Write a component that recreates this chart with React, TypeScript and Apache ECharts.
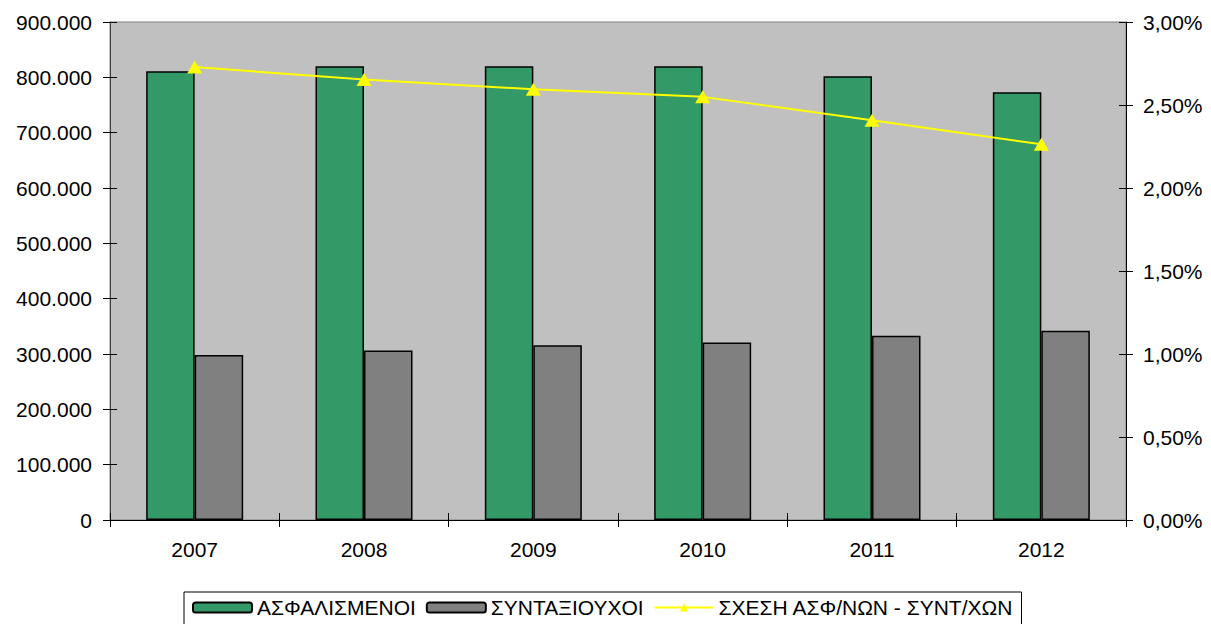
import React, { useEffect, useRef } from "react";
import * as echarts from "echarts";

const years = ["2007", "2008", "2009", "2010", "2011", "2012"];
const insured = [811000, 820000, 820000, 820000, 802000, 773000];
const pensioners = [298000, 306500, 316000, 321000, 333000, 342000];
const ratioPct = [2.729, 2.653, 2.595, 2.549, 2.408, 2.263];

const seriesNames = ["ΑΣΦΑΛΙΣΜΕΝΟΙ", "ΣΥΝΤΑΞΙΟΥΧΟΙ", "ΣΧΕΣΗ ΑΣΦ/ΝΩΝ - ΣΥΝΤ/ΧΩΝ"];

const FONT = "'Liberation Sans', Arial, sans-serif";

const fmtThousands = (v: number) =>
  v === 0 ? "0" : String(Math.round(v)).replace(/\B(?=(\d{3})+(?!\d))/g, ".");
const fmtPct = (v: number) => v.toFixed(2).replace(".", ",") + "%";

export default function App() {
  const ref = useRef<HTMLDivElement>(null);
  useEffect(() => {
    if (!ref.current) return;
    const chart = echarts.init(ref.current, undefined, { renderer: "svg" });
    const labelStyle = { color: "#000", fontSize: 21, fontFamily: FONT };
    chart.setOption({
      animation: false,
      backgroundColor: "#fff",
      textStyle: { fontFamily: FONT },
      grid: {
        left: 110,
        top: 22,
        width: 1016,
        height: 498,
        show: true,
        backgroundColor: "#C0C0C0",
        borderColor: "#808080",
        borderWidth: 1,
      },
      legend: {
        data: seriesNames,
        top: 592,
        left: 184,
        borderColor: "#000",
        borderWidth: 1,
        padding: [5, 8, 10, 8],
        itemGap: 10,
        itemWidth: 59,
        itemHeight: 10,
        textStyle: { color: "#000", fontSize: 21, fontFamily: FONT },
      },
      xAxis: [
        {
          type: "category",
          data: years,
          position: "bottom",
          axisLine: { show: true, lineStyle: { color: "#000", width: 1 } },
          axisTick: { show: true, length: 7, lineStyle: { color: "#000" } },
          axisLabel: { ...labelStyle, margin: 19 },
          splitLine: { show: false },
        },
        {
          type: "category",
          data: years,
          position: "bottom",
          axisLine: { show: false },
          axisTick: { show: true, inside: true, length: 7, lineStyle: { color: "#000" } },
          axisLabel: { show: false },
          splitLine: { show: false },
        },
      ],
      yAxis: [
        {
          type: "value",
          min: 0,
          max: 900000,
          interval: 100000,
          position: "left",
          axisLine: { show: true, lineStyle: { color: "#404040", width: 1 } },
          axisTick: { show: true, length: 7, lineStyle: { color: "#000" } },
          axisLabel: { ...labelStyle, margin: 18, formatter: fmtThousands },
          splitLine: { show: false },
        },
        {
          type: "value",
          min: 0,
          max: 3,
          interval: 0.5,
          position: "right",
          axisLine: { show: true, lineStyle: { color: "#000", width: 1 } },
          axisTick: { show: true, length: 7, lineStyle: { color: "#000" } },
          axisLabel: { ...labelStyle, margin: 17, formatter: fmtPct },
          splitLine: { show: false },
        },
        {
          type: "value",
          min: 0,
          max: 900000,
          interval: 100000,
          position: "left",
          axisLine: { show: false },
          axisTick: { show: true, inside: true, length: 7, lineStyle: { color: "#000" } },
          axisLabel: { show: false },
          splitLine: { show: false },
        },
        {
          type: "value",
          min: 0,
          max: 3,
          interval: 0.5,
          position: "right",
          axisLine: { show: false },
          axisTick: { show: true, inside: true, length: 7, lineStyle: { color: "#000" } },
          axisLabel: { show: false },
          splitLine: { show: false },
        },
      ],
      series: [
        {
          name: seriesNames[0],
          type: "bar",
          data: insured,
          barWidth: 48.5,
          barGap: "0%",
          itemStyle: { color: "#339966", borderColor: "#000", borderWidth: 1.5 },
        },
        {
          name: seriesNames[1],
          type: "bar",
          data: pensioners,
          barWidth: 48.5,
          barGap: "0%",
          itemStyle: { color: "#808080", borderColor: "#000", borderWidth: 1.5 },
        },
        {
          name: seriesNames[2],
          type: "line",
          yAxisIndex: 1,
          data: ratioPct,
          symbol: "triangle",
          symbolSize: [15, 13],
          lineStyle: { color: "#FFFF00", width: 2 },
          itemStyle: { color: "#FFFF00" },
          z: 5,
        },
      ],
    });
    return () => chart.dispose();
  }, []);
  return (
    <div
      ref={ref}
      style={{ position: "fixed", left: 0, top: 0, width: 1211, height: 624 }}
    />
  );
}
